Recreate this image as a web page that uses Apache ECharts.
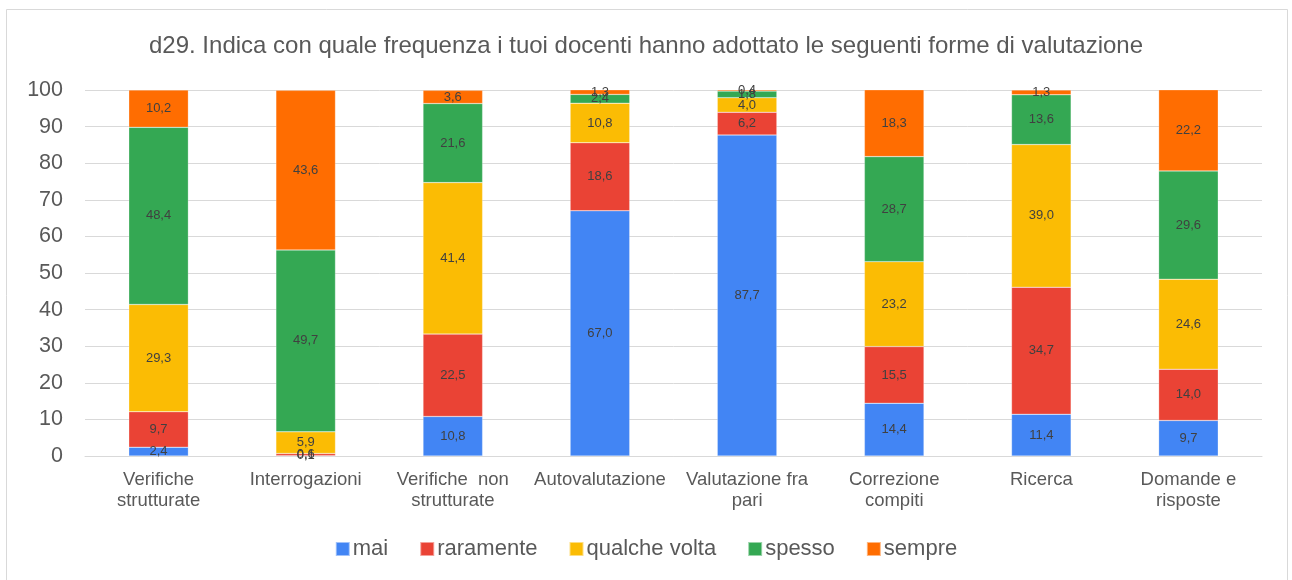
<!DOCTYPE html>
<html>
<head>
<meta charset="utf-8">
<script src="https://cdn.jsdelivr.net/npm/echarts@6/dist/echarts.min.js"></script>
<style>
  html, body { margin: 0; padding: 0; background: #fff; }
  #chart { width: 1292px; height: 580px; }
</style>
</head>
<body>
<div id="chart"></div>
<script>
// Forme di valutazione (asse delle categorie)
const categories = [
  'Verifiche\nstrutturate',
  'Interrogazioni',
  'Verifiche  non\nstrutturate',
  'Autovalutazione',
  'Valutazione fra\npari',
  'Correzione\ncompiti',
  'Ricerca',
  'Domande e\nrisposte'
];

// Percentuali per frequenza
const mai          = [2.4, 0.1, 10.8, 67.0, 87.7, 14.4, 11.4, 9.7];
const raramente    = [9.7, 0.6, 22.5, 18.6, 6.2, 15.5, 34.7, 14.0];
const qualcheVolta = [29.3, 5.9, 41.4, 10.8, 4.0, 23.2, 39.0, 24.6];
const spesso       = [48.4, 49.7, 21.6, 2.4, 1.8, 28.7, 13.6, 29.6];
const sempre       = [10.2, 43.6, 3.6, 1.3, 0.4, 18.3, 1.3, 22.2];

const yTicks = [0, 10, 20, 30, 40, 50, 60, 70, 80, 90, 100];

const seriesDefs = [
  { name: 'mai', data: mai, color: '#4285F4' },
  { name: 'raramente', data: raramente, color: '#EA4335' },
  { name: 'qualche volta', data: qualcheVolta, color: '#FBBC04' },
  { name: 'spesso', data: spesso, color: '#34A853' },
  { name: 'sempre', data: sempre, color: '#FF6D01' }
];

const chart = echarts.init(document.getElementById('chart'), null, { renderer: 'canvas' });

const fmt = v => v.toFixed(1).replace('.', ',');

chart.setOption({
  backgroundColor: '#ffffff',
  animation: false,
  textStyle: { fontFamily: 'Liberation Sans, Arial, sans-serif' },
  graphic: [{
    type: 'rect',
    shape: { x: 6.5, y: 9.5, width: 1281, height: 580 },
    style: { fill: 'none', stroke: '#d9d9d9', lineWidth: 1 },
    silent: true
  }],
  title: {
    text: 'd29. Indica con quale frequenza i tuoi docenti hanno adottato le seguenti forme di valutazione',
    left: 'center',
    top: 29,
    textStyle: { fontSize: 24, fontWeight: 'normal', color: '#595959', fontFamily: 'Liberation Sans, Arial, sans-serif' }
  },
  legend: {
    bottom: 15,
    left: 'center',
    itemWidth: 14,
    itemHeight: 14,
    itemGap: 31,
    icon: 'rect',
    textStyle: { fontSize: 22, color: '#595959', padding: [0, 0, 0, -2] },
    data: seriesDefs.map(s => s.name)
  },
  grid: { left: 85, right: 30, top: 90, bottom: 124, containLabel: false },
  xAxis: {
    type: 'category',
    data: categories,
    axisTick: { show: false },
    axisLine: { lineStyle: { color: '#d9d9d9', width: 1 } },
    axisLabel: { color: '#595959', fontSize: 18.5, lineHeight: 21, margin: 13, interval: 0 }
  },
  yAxis: {
    type: 'value',
    min: yTicks[0],
    max: yTicks[yTicks.length - 1],
    interval: 10,
    axisLine: { show: false },
    axisTick: { show: false },
    splitLine: { lineStyle: { color: '#d9d9d9', width: 1 } },
    axisLabel: { color: '#595959', fontSize: 21.5, margin: 22 }
  },
  series: seriesDefs.map(s => ({
    name: s.name,
    type: 'bar',
    stack: 'tot',
    barWidth: '40.5%',
    data: s.data,
    itemStyle: { color: s.color, borderColor: 'rgba(255,255,255,0.5)', borderWidth: 0.5 },
    label: {
      show: true,
      position: 'inside',
      color: '#404040',
      fontSize: 13,
      formatter: p => fmt(p.value)
    },
    labelLayout: { hideOverlap: false }
  }))
});
</script>
</body>
</html>
